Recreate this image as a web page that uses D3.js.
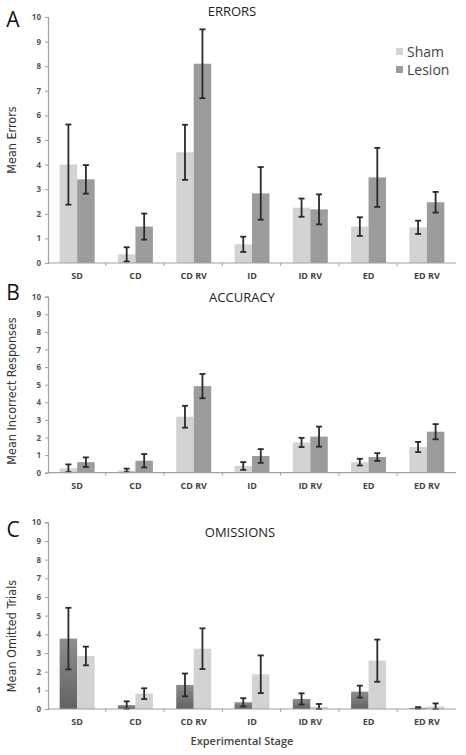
<!DOCTYPE html>
<html><head><meta charset="utf-8">
<script src="https://cdn.jsdelivr.net/npm/d3@7"></script>
<style>body{margin:0;background:#fff;} svg{display:block;}</style>
</head><body>
<script>
const stages = ["SD","CD","CD RV","ID","ID RV","ED","ED RV"];
const yTicks = [0,1,2,3,4,5,6,7,8,9,10];
const legendLabels = ["Sham","Lesion"];

const errorsSham = [4.0,0.35,4.5,0.76,2.25,1.48,1.45];
const errorsShamErr = [1.63,0.29,1.12,0.31,0.37,0.38,0.27];
const errorsLesion = [3.4,1.48,8.1,2.83,2.18,3.48,2.47];
const errorsLesionErr = [0.58,0.53,1.4,1.07,0.61,1.2,0.42];

const accuracySham = [0.25,0.13,3.18,0.38,1.72,0.6,1.46];
const accuracyShamErr = [0.22,0.1,0.62,0.22,0.26,0.19,0.29];
const accuracyLesion = [0.6,0.68,4.92,0.95,2.05,0.89,2.33];
const accuracyLesionErr = [0.27,0.38,0.69,0.39,0.57,0.22,0.43];

const omissionsDark = [3.77,0.21,1.29,0.36,0.54,0.93,0.06];
const omissionsDarkErr = [1.65,0.2,0.61,0.22,0.3,0.32,0.04];
const omissionsLight = [2.84,0.82,3.23,1.86,0.12,2.59,0.14];
const omissionsLightErr = [0.5,0.29,1.09,1.01,0.15,1.13,0.16];

const W = 466, H = 755;
const svg = d3.select("body").append("svg").attr("width", W).attr("height", H);
const defs = svg.append("defs");
const grad = defs.append("linearGradient").attr("id","darkGrad").attr("x1",0).attr("y1",0).attr("x2",0).attr("y2",1);
grad.append("stop").attr("offset","0%").attr("stop-color","#8e8e8e");
grad.append("stop").attr("offset","100%").attr("stop-color","#626262");

const FONT = "'Open Sans', 'Liberation Sans', sans-serif";
const NARROW = "'Liberation Sans Narrow', 'DejaVu Sans Condensed', sans-serif";
const x = d3.scaleBand().domain(stages).range([48,456]).paddingInner(0.4).paddingOuter(0.2);
const xs = d3.scaleBand().domain([0,1]).range([0, x.bandwidth()]);

const panels = [
  {letter:"A", title:"ERRORS", ylabel:"Mean Errors", top:17, bottom:263, titleX:232, titleY:16, ylabelY:140, letterY:27,
   series:[{v:errorsSham,e:errorsShamErr,fill:"#d3d3d3"},{v:errorsLesion,e:errorsLesionErr,fill:"#9c9c9c"}], xtitle:null},
  {letter:"B", title:"ACCURACY", ylabel:"Mean Incorrect  Responses", top:296.7, bottom:472.7, titleX:242, titleY:302, ylabelY:391, letterY:300,
   series:[{v:accuracySham,e:accuracyShamErr,fill:"#d3d3d3"},{v:accuracyLesion,e:accuracyLesionErr,fill:"#9c9c9c"}], xtitle:null},
  {letter:"C", title:"OMISSIONS", ylabel:"Mean Omitted Trials", top:522.3, bottom:709, titleX:240, titleY:537, ylabelY:636, letterY:537,
   series:[{v:omissionsDark,e:omissionsDarkErr,fill:"url(#darkGrad)"},{v:omissionsLight,e:omissionsLightErr,fill:"#d3d3d3"}], xtitle:"Experimental  Stage"}
];

panels.forEach(p => {
  const g = svg.append("g");
  const y = d3.scaleLinear().domain([0,10]).range([p.bottom, p.top]);
  const ya = d3.axisLeft(y).tickValues(yTicks).tickSize(3).tickPadding(4);
  const yg = g.append("g").attr("transform","translate(48,0)").call(ya);
  yg.select(".domain").attr("stroke","#a0a0a0").attr("stroke-width",1.2);
  yg.selectAll(".tick line").attr("stroke","#a0a0a0");
  yg.selectAll(".tick text").attr("font-family",FONT).attr("font-size",8).attr("font-weight",700).attr("fill","#555");
  p.series.forEach((s,si) => {
    g.append("g").selectAll("rect").data(stages).join("rect")
      .attr("x", d => x(d) + xs(si))
      .attr("width", xs.bandwidth())
      .attr("y", (d,i) => y(s.v[i]))
      .attr("height", (d,i) => y(0) - y(s.v[i]))
      .attr("fill", s.fill);
  });
  p.series.forEach((s,si) => {
    const eg = g.append("g").attr("stroke","#2a2a2a").attr("stroke-width",1.8);
    stages.forEach((d,i) => {
      const cx = x(d) + xs(si) + xs.bandwidth()/2;
      const hi = y(s.v[i] + s.e[i]), lo = y(Math.max(0, s.v[i] - s.e[i]));
      eg.append("line").attr("x1",cx).attr("x2",cx).attr("y1",hi).attr("y2",lo);
      eg.append("line").attr("x1",cx-3).attr("x2",cx+3).attr("y1",hi).attr("y2",hi);
      eg.append("line").attr("x1",cx-3).attr("x2",cx+3).attr("y1",lo).attr("y2",lo);
    });
  });
  const xg = g.append("g").attr("transform",`translate(0,${p.bottom})`);
  xg.append("line").attr("x1",48).attr("x2",456).attr("stroke","#a0a0a0").attr("stroke-width",1.2);
  xg.selectAll(".sep").data(stages.slice(1)).join("line")
    .attr("x1", d => x(d) - x.step()*x.paddingInner()/2 - 0.5).attr("x2", d => x(d) - x.step()*x.paddingInner()/2 - 0.5)
    .attr("y1",0).attr("y2",3).attr("stroke","#a0a0a0");
  xg.selectAll(".lbl").data(stages).join("text")
    .attr("x", d => x(d) + x.bandwidth()/2).attr("y", 16)
    .attr("text-anchor","middle").attr("font-family",FONT).attr("font-size",9).attr("font-weight",700).attr("fill","#444")
    .text(d => d);
  svg.append("text").attr("x",p.titleX).attr("y",p.titleY).attr("text-anchor","middle")
    .attr("font-family",FONT).attr("font-size",13).attr("fill","#222").text(p.title);
  svg.append("text").attr("x",13).attr("y",p.letterY).attr("text-anchor","middle")
    .attr("font-family",FONT).attr("font-size",21).attr("fill","#111").text(p.letter);
  svg.append("text").attr("transform",`translate(16,${p.ylabelY}) rotate(-90)`).attr("text-anchor","middle")
    .attr("font-family",NARROW).attr("font-size",12.5).attr("fill","#333").text(p.ylabel);
  if (p.xtitle) {
    svg.append("text").attr("x",242).attr("y",745).attr("text-anchor","middle")
      .attr("font-family",FONT).attr("font-size",11).attr("font-weight",600).attr("fill","#444").text(p.xtitle);
  }
});

const legColors = ["#d3d3d3","#9c9c9c"];
const lg = svg.append("g");
legendLabels.forEach((l,i) => {
  lg.append("rect").attr("x",396).attr("y",48 + i*18).attr("width",7).attr("height",7).attr("fill",legColors[i]);
  lg.append("text").attr("x",407).attr("y",57 + i*18).attr("font-family",FONT).attr("font-size",14).attr("fill","#444").text(l);
});
</script>
</body></html>
